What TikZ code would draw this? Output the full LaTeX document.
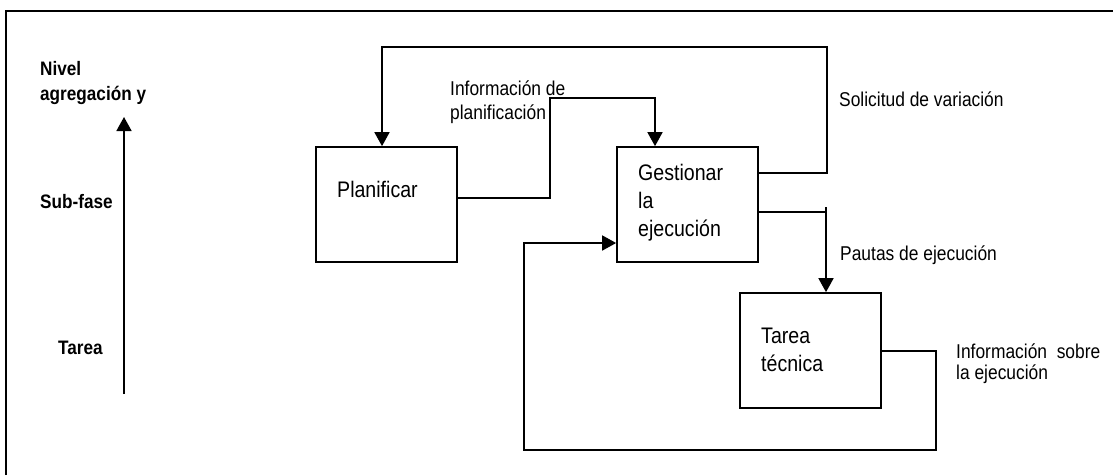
\documentclass[tikz,border=0pt]{standalone}
\usepackage{fontspec}
\setmainfont{Liberation Sans}[FakeStretch=0.87]
\newfontfamily\axisfont{Liberation Sans}[FakeStretch=0.88]
\usetikzlibrary{arrows.meta}
\tikzset{
  wire/.style={line width=1.7pt, line join=miter},
  arr/.style={wire, -{Triangle[length=14pt,width=15pt]}},
  procbox/.style={draw, line width=1.7pt, minimum width=141pt, minimum height=115pt, inner sep=0pt},
  lbl/.style={anchor=base west, inner sep=0pt, font=\fontsize{20}{24}\selectfont},
  boxtxt/.style={anchor=base west, inner sep=0pt, font=\fontsize{22.5}{27}\selectfont},
  axistxt/.style={anchor=base west, inner sep=0pt, font=\axisfont\bfseries\fontsize{19.5}{24}\selectfont},
}
\begin{document}
\begin{tikzpicture}[x=1pt, y=-1pt]
\useasboundingbox (0,0) rectangle (1113,475);

% open frame: left and top edges
\draw[line width=1.9pt] (6,475) -- (6,11) -- (1113,11);

% aggregation level axis
\coordinate (axlo) at (124,394);
\coordinate (axhi) at (124,117);
\draw[arr] (axlo) -- (axhi);
\node[axistxt] (nivel) at (40,75) {Nivel};
\node[axistxt] (agreg) at (40,100) {agregación y};
\node[axistxt] (subfase) at (40,208) {Sub-fase};
\node[axistxt] (tarealvl) at (58,354) {Tarea};

% process boxes
\node[procbox] (plan) at (386.5,204.5) {};
\node[procbox] (gest) at (687.5,204.5) {};
\node[procbox] (tarea) at (810.5,350.5) {};

\node[boxtxt] (planT) at (337,197) {Planificar};
\node[boxtxt] (gestT1) at (638,180) {Gestionar};
\node[boxtxt] (gestT2) at (638,208) {la};
\node[boxtxt] (gestT3) at (638,236) {ejecución};
\node[boxtxt] (tareaT1) at (761,343) {Tarea};
\node[boxtxt] (tareaT2) at (761,371) {técnica};

% change request loop: management back to planning
\coordinate (sv1) at (827,173);
\coordinate (sv2) at (827,47);
\coordinate (sv3) at (382,47);
\draw[arr] (gest.east |- sv1) -- (sv1) -- (sv2) -- (sv3) -- (plan.north -| sv3);
\node[lbl] (solic) at (839,106) {Solicitud de variación};

% planning information
\coordinate (pi1) at (550,198);
\coordinate (pi2) at (550,98);
\coordinate (pi3) at (655,98);
\draw[arr] (plan.east |- pi1) -- (pi1) -- (pi2) -- (pi3) -- (gest.north -| pi3);
\node[lbl] (infoplan1) at (450,95) {Información de};
\node[lbl] (infoplan2) at (450,119) {planificación};

% execution guidelines
\coordinate (pe0) at (826,207);
\coordinate (pe1) at (826,212);
\draw[wire] (gest.east |- pe1) -- (pe1);
\draw[arr] (pe0) -- (tarea.north -| pe0);
\node[lbl] (pautas) at (840,260) {Pautas de ejecución};

% execution feedback
\coordinate (fb1) at (936,351);
\coordinate (fb2) at (936,450);
\coordinate (fb3) at (524,450);
\coordinate (fb4) at (524,243);
\draw[arr] (tarea.east |- fb1) -- (fb1) -- (fb2) -- (fb3) -- (fb4) -- (gest.west |- fb4);
\node[lbl] (infoej1) at (956,358) {Información\ \ sobre};
\node[lbl] (infoej2) at (956,379) {la ejecución};
\end{tikzpicture}
\end{document}
